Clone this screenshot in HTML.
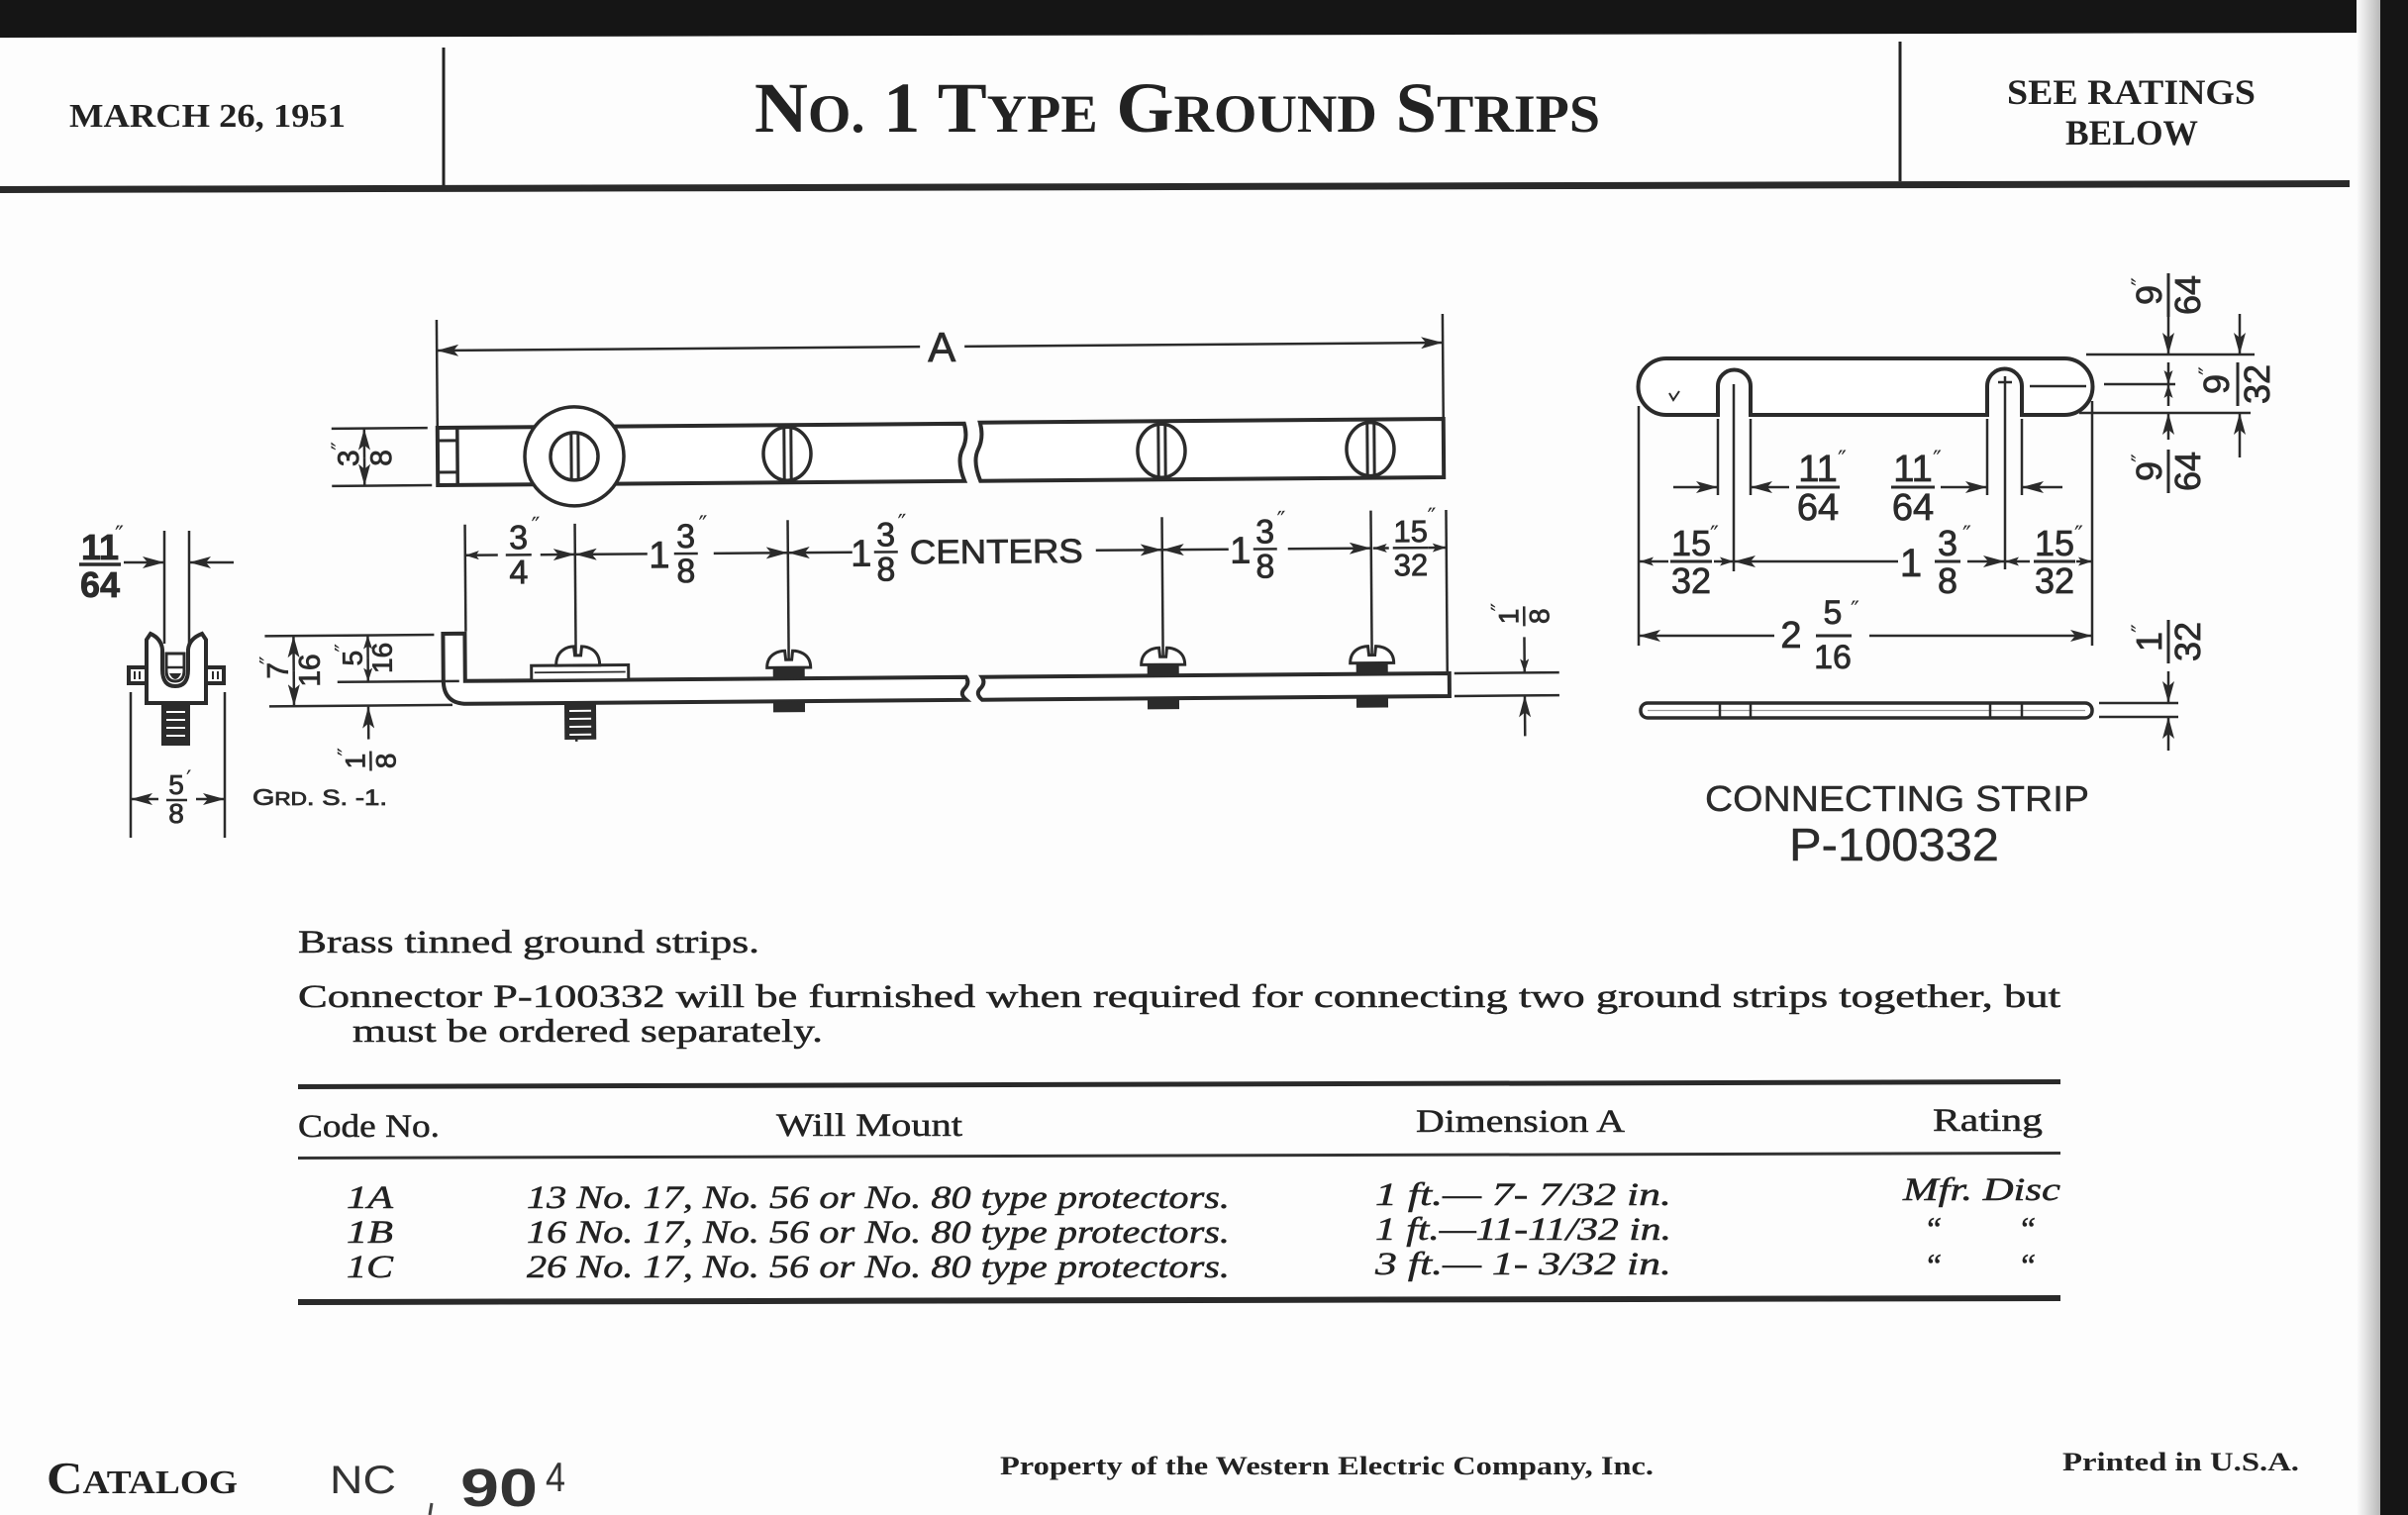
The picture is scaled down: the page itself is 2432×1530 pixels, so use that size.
<!DOCTYPE html>
<html><head><meta charset="utf-8"><style>
html,body{margin:0;padding:0;background:#fff;}
svg{display:block;}
.d{font-family:"Liberation Sans","DejaVu Sans",sans-serif;fill:#2b2b2b;stroke:#2b2b2b;stroke-width:0.8;text-anchor:middle;}
.q{font-family:"DejaVu Sans","Liberation Sans",sans-serif;fill:#2b2b2b;font-size:24px;}
.s{font-family:"Liberation Serif",serif;fill:#222;}
.sb{stroke:#222;stroke-width:0.5;}
.ln{stroke:#2b2b2b;stroke-width:2.5;fill:none;}
.ob{stroke:#2b2b2b;stroke-width:4;fill:#fff;}
</style></head><body>
<svg width="2432" height="1530" viewBox="0 0 2432 1530" xmlns="http://www.w3.org/2000/svg">
<defs>
<marker id="a" viewBox="0 0 22 12" refX="22" refY="6" markerWidth="22" markerHeight="12" markerUnits="userSpaceOnUse" orient="auto-start-reverse"><path d="M0,0 L22,6 L0,12 L5,6 Z" fill="#2b2b2b"/></marker>
<marker id="b" viewBox="0 0 14 9" refX="14" refY="4.5" markerWidth="14" markerHeight="9" markerUnits="userSpaceOnUse" orient="auto-start-reverse"><path d="M0,0 L14,4.5 L0,9 L3,4.5 Z" fill="#2b2b2b"/></marker>
<linearGradient id="edge" x1="0" x2="1" y1="0" y2="0"><stop offset="0" stop-color="#fdfdfd"/><stop offset="1" stop-color="#b8b8b8"/></linearGradient>
</defs>
<rect width="2432" height="1530" fill="#fdfdfd"/>
<polygon points="0,0 2432,0 2432,33 0,38" fill="#151515"/>
<rect x="2380" y="0" width="24" height="1530" fill="url(#edge)"/>
<rect x="2404" y="0" width="28" height="1530" fill="#151515"/>

<!-- HEADER -->
<text class="s" x="70" y="128" font-weight="bold" font-size="34" textLength="279" lengthAdjust="spacingAndGlyphs">MARCH 26, 1951</text>
<line x1="448" y1="48" x2="448" y2="190" stroke="#222" stroke-width="3"/>
<text class="s" x="762" y="133" font-weight="bold" textLength="854" lengthAdjust="spacingAndGlyphs"><tspan font-size="72">N</tspan><tspan font-size="54">O.</tspan><tspan font-size="72"> 1 T</tspan><tspan font-size="54">YPE</tspan><tspan font-size="72"> G</tspan><tspan font-size="54">ROUND</tspan><tspan font-size="72"> S</tspan><tspan font-size="54">TRIPS</tspan></text>
<line x1="1919" y1="42" x2="1919" y2="183" stroke="#222" stroke-width="3"/>
<text class="s" x="2027" y="105" font-weight="bold" font-size="36" textLength="251" lengthAdjust="spacingAndGlyphs">SEE RATINGS</text>
<text class="s" x="2086" y="146" font-weight="bold" font-size="36" textLength="134" lengthAdjust="spacingAndGlyphs">BELOW</text>
<polygon points="0,188 2373,182 2373,189 0,195" fill="#2a2a2a"/>

<!-- LEFT END VIEW -->
<g>
<line class="ln" x1="166" y1="536" x2="166" y2="650"/>
<line class="ln" x1="191" y1="536" x2="191" y2="650"/>
<line class="ln" x1="125" y1="568" x2="166" y2="568" marker-end="url(#a)"/>
<line class="ln" x1="236" y1="568" x2="191" y2="568" marker-end="url(#a)"/>
<g class="d" font-size="36" font-weight="bold">
<text x="101" y="565">11</text><text x="101" y="603">64</text>
</g>
<line x1="80" y1="570" x2="122" y2="570" stroke="#2b2b2b" stroke-width="3.5"/>
<text class="q" x="116" y="548" font-size="28">″</text>
<rect x="130" y="674" width="18" height="16" class="ob" stroke-width="3"/>
<rect x="208" y="674" width="18" height="16" class="ob" stroke-width="3"/>
<line x1="136" y1="678" x2="136" y2="686" stroke="#2b2b2b" stroke-width="2"/><line x1="141" y1="678" x2="141" y2="686" stroke="#2b2b2b" stroke-width="2"/>
<line x1="215" y1="678" x2="215" y2="686" stroke="#2b2b2b" stroke-width="2"/><line x1="220" y1="678" x2="220" y2="686" stroke="#2b2b2b" stroke-width="2"/>
<path class="ob" d="M148,710 L148,646 L152,640 Q163,645 164,656 L164,676 Q164,693 177,693 Q190,693 190,676 L190,656 Q191,645 204,640 L208,646 L208,710 Z"/>
<path d="M168,660 L186,660 L186,677 Q186,688 177,688 Q168,688 168,677 Z" fill="#fff" stroke="#2b2b2b" stroke-width="3"/>
<line x1="168" y1="674" x2="186" y2="674" stroke="#2b2b2b" stroke-width="2.5"/>
<path d="M171,680 L183,680 Q180,686 177,686 Q174,686 171,680 Z" fill="#2b2b2b"/>
<rect x="163" y="711" width="29" height="42" fill="#2b2b2b"/>
<g stroke="#fff" stroke-width="2"><line x1="168" y1="719" x2="187" y2="719"/><line x1="168" y1="727" x2="187" y2="727"/><line x1="168" y1="735" x2="187" y2="735"/><line x1="168" y1="743" x2="187" y2="743"/></g>
<line class="ln" x1="132" y1="699" x2="132" y2="846"/>
<line class="ln" x1="227" y1="699" x2="227" y2="846"/>
<line class="ln" x1="160" y1="807" x2="132" y2="807" marker-end="url(#a)"/>
<line class="ln" x1="198" y1="807" x2="227" y2="807" marker-end="url(#a)"/>
<g class="d" font-size="28"><text x="178" y="802">5</text><text x="178" y="831">8</text></g>
<line x1="168" y1="808" x2="189" y2="808" stroke="#2b2b2b" stroke-width="2.5"/>
<text class="q" x="188" y="795" font-size="20">′</text>
<text class="d" x="255" y="813" font-size="22" textLength="136" lengthAdjust="spacingAndGlyphs" style="text-anchor:start"><tspan font-size="23">G</tspan><tspan font-size="18">RD</tspan>. S. -1.</text>
</g>

<!-- MAIN STRIP -->
<g transform="rotate(-0.45 442 460)">
<line class="ln" x1="442" y1="323" x2="442" y2="432"/>
<line class="ln" x1="1458" y1="325" x2="1458" y2="431"/>
<line class="ln" x1="930" y1="354" x2="442" y2="354" marker-end="url(#a)"/>
<line class="ln" x1="975" y1="354" x2="1458" y2="354" marker-end="url(#a)"/>
<text class="d" x="952" y="369" font-size="42">A</text>
<path class="ob" d="M442,432 L974,432 Q978,446 972,458 Q966,470 974,490 L442,490 Z"/>
<path class="ob" d="M990,431 L1458,431 L1458,490 L990,490 Q982,470 988,458 Q994,446 990,431 Z"/>
<line x1="462" y1="432" x2="462" y2="490" stroke="#2b2b2b" stroke-width="3.5"/>
<line x1="442" y1="445" x2="462" y2="445" stroke="#2b2b2b" stroke-width="3"/>
<line x1="442" y1="477" x2="462" y2="477" stroke="#2b2b2b" stroke-width="3"/>
<circle cx="580" cy="462" r="50" fill="#fff" stroke="#2b2b2b" stroke-width="3.5"/>
<circle cx="580" cy="462" r="24" fill="#fff" stroke="#2b2b2b" stroke-width="3.5"/>
<line x1="577" y1="439" x2="577" y2="485" stroke="#2b2b2b" stroke-width="3"/><line x1="584" y1="439" x2="584" y2="485" stroke="#2b2b2b" stroke-width="3"/>
<g fill="#fff" stroke="#2b2b2b" stroke-width="3.5">
<ellipse cx="795" cy="461" rx="24" ry="27"/>
<ellipse cx="1173" cy="461" rx="24" ry="27"/>
<ellipse cx="1384" cy="461" rx="24" ry="27"/>
</g>
<g stroke="#2b2b2b" stroke-width="3">
<line x1="792" y1="435" x2="792" y2="487"/><line x1="799" y1="435" x2="799" y2="487"/>
<line x1="1170" y1="435" x2="1170" y2="487"/><line x1="1177" y1="435" x2="1177" y2="487"/>
<line x1="1381" y1="435" x2="1381" y2="487"/><line x1="1388" y1="435" x2="1388" y2="487"/>
</g>
<line class="ln" x1="335" y1="432" x2="432" y2="432"/>
<line class="ln" x1="335" y1="490" x2="436" y2="490"/>
<line class="ln" x1="368" y1="462" x2="368" y2="432" marker-end="url(#a)"/>
<line class="ln" x1="368" y1="462" x2="368" y2="490" marker-end="url(#a)"/>
<g transform="translate(368,462) rotate(-90)"><g class="d" font-size="30"><text x="0" y="-6">3</text><text x="0" y="27">8</text></g><text class="q" x="8" y="-16" font-size="20">″</text></g>

<line class="ln" x1="469" y1="530" x2="469" y2="638" stroke-width="2"/>
<line class="ln" x1="580" y1="530" x2="580" y2="750" stroke-width="2"/>
<line class="ln" x1="795" y1="528" x2="795" y2="712" stroke-width="2"/>
<line class="ln" x1="1173" y1="528" x2="1173" y2="712" stroke-width="2"/>
<line class="ln" x1="1384" y1="523" x2="1384" y2="712" stroke-width="2"/>
<line class="ln" x1="1460" y1="523" x2="1460" y2="686" stroke-width="2"/>
<line class="ln" x1="502" y1="561" x2="469" y2="561" marker-end="url(#b)"/>
<line class="ln" x1="545" y1="561" x2="580" y2="561" marker-end="url(#a)"/>
<line class="ln" x1="653" y1="561" x2="580" y2="561" marker-end="url(#a)"/>
<line class="ln" x1="720" y1="561" x2="795" y2="561" marker-end="url(#a)"/>
<line class="ln" x1="860" y1="561" x2="795" y2="561" marker-end="url(#a)"/>
<line class="ln" x1="1106" y1="561" x2="1173" y2="561" marker-end="url(#a)"/>
<line class="ln" x1="1240" y1="561" x2="1173" y2="561" marker-end="url(#a)"/>
<line class="ln" x1="1300" y1="561" x2="1384" y2="561" marker-end="url(#a)"/>
<line class="ln" x1="1402" y1="561" x2="1386" y2="561" marker-end="url(#b)"/>
<line class="ln" x1="1442" y1="561" x2="1460" y2="561" marker-end="url(#b)"/>
<g class="d" font-size="34">
<text x="523" y="555">3</text><text x="523" y="590">4</text>
<text x="665" y="575" font-size="38">1</text>
<text x="692" y="555">3</text><text x="692" y="590">8</text>
<text x="869" y="575" font-size="38">1</text>
<text x="894" y="555">3</text><text x="894" y="590">8</text>
<text x="1252" y="575" font-size="38">1</text>
<text x="1277" y="555">3</text><text x="1277" y="590">8</text>
<text x="1424" y="555" font-size="31">15</text><text x="1424" y="589" font-size="31">32</text>
</g>
<text class="d" x="918" y="573" font-size="34" textLength="175" lengthAdjust="spacingAndGlyphs" style="text-anchor:start">CENTERS</text>
<g stroke="#2b2b2b" stroke-width="2.5">
<line x1="510" y1="561" x2="536" y2="561"/>
<line x1="680" y1="561" x2="704" y2="561"/>
<line x1="882" y1="561" x2="906" y2="561"/>
<line x1="1265" y1="561" x2="1289" y2="561"/>
<line x1="1406" y1="561" x2="1442" y2="561"/>
</g>
<g class="q">
<text x="536" y="540">″</text><text x="705" y="540">″</text><text x="906" y="540">″</text><text x="1289" y="540">″</text><text x="1441" y="538">″</text>
</g>

<path class="ob" d="M446,640 L468,640 L468,688 L974,688 Q978,694 972,700 Q967,705 974,711 L470,711 Q446,711 446,687 Z"/>
<path class="ob" d="M990,688 L1462,688 L1462,711 L990,711 Q983,705 988,700 Q994,694 990,688 Z"/>
<rect x="535" y="673" width="98" height="15" fill="#fff" stroke="#2b2b2b" stroke-width="3"/>
<line x1="538" y1="680" x2="630" y2="680" stroke="#2b2b2b" stroke-width="1.8"/>
<g fill="#fff" stroke="#2b2b2b" stroke-width="3">
<path d="M560,673 C560,656 574,654 578,654 L579,663 L585,663 L586,654 C590,654 604,656 604,673 Z"/>
<path d="M773,677 C773,662 787,660 791,660 L792,669 L798,669 L799,660 C803,660 817,662 817,677 Z"/>
<path d="M1151,677 C1151,662 1165,660 1169,660 L1170,669 L1176,669 L1177,660 C1181,660 1195,662 1195,677 Z"/>
<path d="M1362,677 C1362,662 1376,660 1380,660 L1381,669 L1387,669 L1388,660 C1392,660 1406,662 1406,677 Z"/>
</g>
<rect x="568" y="711" width="32" height="37" fill="#2b2b2b"/>
<g stroke="#fff" stroke-width="2"><line x1="573" y1="719" x2="595" y2="719"/><line x1="573" y1="727" x2="595" y2="727"/><line x1="573" y1="735" x2="595" y2="735"/><line x1="573" y1="743" x2="595" y2="743"/></g>
<g fill="#2b2b2b">
<rect x="779" y="677" width="32" height="11"/><rect x="779" y="711" width="32" height="11"/>
<rect x="1157" y="677" width="32" height="11"/><rect x="1157" y="711" width="32" height="11"/>
<rect x="1368" y="677" width="32" height="11"/><rect x="1368" y="711" width="32" height="11"/>
</g>
<line class="ln" x1="266" y1="641" x2="437" y2="641"/>
<line class="ln" x1="339" y1="688" x2="462" y2="688"/>
<line class="ln" x1="270" y1="712" x2="455" y2="712"/>
<line class="ln" x1="295" y1="676" x2="295" y2="641" marker-end="url(#a)"/>
<line class="ln" x1="295" y1="676" x2="295" y2="712" marker-end="url(#a)"/>
<g transform="translate(295,676) rotate(-90)"><g class="d" font-size="30"><text x="0" y="-6">7</text><text x="0" y="26">16</text></g><text class="q" x="6" y="-17" font-size="18">″</text></g>
<line class="ln" x1="370" y1="664" x2="370" y2="641" marker-end="url(#b)"/>
<line class="ln" x1="370" y1="664" x2="370" y2="688" marker-end="url(#b)"/>
<g transform="translate(370,664) rotate(-90)"><g class="d" font-size="28"><text x="0" y="-6">5</text><text x="0" y="24">16</text></g><text class="q" x="6" y="-16" font-size="17">″</text></g>
<line class="ln" x1="370" y1="746" x2="370" y2="713" marker-end="url(#a)"/>
<g transform="translate(372,768) rotate(-90)"><g class="d" font-size="28"><text x="0" y="-6">1</text><text x="0" y="25">8</text></g><line x1="-10" y1="0" x2="10" y2="0" stroke="#2b2b2b" stroke-width="2.5"/><text class="q" x="5" y="-16" font-size="18">″</text></g>
<line class="ln" x1="1467" y1="688" x2="1573" y2="688"/>
<line class="ln" x1="1467" y1="711" x2="1573" y2="711"/>
<line class="ln" x1="1538" y1="652" x2="1538" y2="688" marker-end="url(#b)"/>
<line class="ln" x1="1538" y1="752" x2="1538" y2="711" marker-end="url(#a)"/>
<g transform="translate(1538,631) rotate(-90)"><g class="d" font-size="28"><text x="0" y="-6">1</text><text x="0" y="25">8</text></g><line x1="-10" y1="0" x2="10" y2="0" stroke="#2b2b2b" stroke-width="2.5"/><text class="q" x="5" y="-16" font-size="18">″</text></g>
</g>

<!-- CONNECTING STRIP -->
<g>
<path class="ob" stroke-width="3.5" d="M1683,362 L2085,362 A28.5,28.5 0 0 1 2085,419 L2042,419 L2042,390 A17.5,17.5 0 0 0 2007,390 L2007,419 L1768,419 L1768,390 A16.5,16.5 0 0 0 1735,390 L1735,419 L1683,419 A28.5,28.5 0 0 1 1683,362 Z"/>
<path d="M1686,397 L1690,404 L1696,395" stroke="#2b2b2b" stroke-width="2" fill="none"/>
<line class="ln" x1="1751" y1="388" x2="1751" y2="577" stroke-width="2"/>
<line class="ln" x1="2025" y1="380" x2="2025" y2="575" stroke-width="2"/>
<line class="ln" x1="2018" y1="386" x2="2032" y2="386" stroke-width="2"/>
<line class="ln" x1="2050" y1="390" x2="2107" y2="390" stroke-width="2"/>
<line class="ln" x1="1735" y1="423" x2="1735" y2="500"/>
<line class="ln" x1="1768" y1="423" x2="1768" y2="500"/>
<line class="ln" x1="2007" y1="423" x2="2007" y2="500"/>
<line class="ln" x1="2042" y1="423" x2="2042" y2="500"/>
<line class="ln" x1="1655" y1="410" x2="1655" y2="652"/>
<line class="ln" x1="2113" y1="405" x2="2113" y2="652"/>
<line class="ln" x1="1690" y1="492" x2="1735" y2="492" marker-end="url(#a)"/>
<line class="ln" x1="1807" y1="492" x2="1768" y2="492" marker-end="url(#a)"/>
<line class="ln" x1="1960" y1="492" x2="2007" y2="492" marker-end="url(#a)"/>
<line class="ln" x1="2083" y1="492" x2="2042" y2="492" marker-end="url(#a)"/>
<line class="ln" x1="1685" y1="567" x2="1656" y2="567" marker-end="url(#b)"/>
<line class="ln" x1="1731" y1="567" x2="1751" y2="567" marker-end="url(#b)"/>
<line class="ln" x1="1917" y1="567" x2="1751" y2="567" marker-end="url(#a)"/>
<line class="ln" x1="1987" y1="567" x2="2025" y2="567" marker-end="url(#a)"/>
<line class="ln" x1="2050" y1="567" x2="2025" y2="567" marker-end="url(#b)"/>
<line class="ln" x1="2097" y1="567" x2="2113" y2="567" marker-end="url(#b)"/>
<line class="ln" x1="1792" y1="642" x2="1655" y2="642" marker-end="url(#a)"/>
<line class="ln" x1="1888" y1="642" x2="2113" y2="642" marker-end="url(#a)"/>
<g class="d" font-size="38">
<text x="1836" y="486">11</text><text x="1836" y="525">64</text>
<text x="1932" y="486">11</text><text x="1932" y="525">64</text>
<text x="1708" y="561" font-size="36">15</text><text x="1708" y="599" font-size="36">32</text>
<text x="1930" y="582" font-size="40">1</text>
<text x="1967" y="561" font-size="36">3</text><text x="1967" y="599" font-size="36">8</text>
<text x="2075" y="561" font-size="36">15</text><text x="2075" y="599" font-size="36">32</text>
<text x="1809" y="654" font-size="38">2</text>
<text x="1851" y="630" font-size="34">5</text><text x="1851" y="675" font-size="34">16</text>
</g>
<g stroke="#2b2b2b" stroke-width="3">
<line x1="1814" y1="492" x2="1858" y2="492"/>
<line x1="1910" y1="492" x2="1954" y2="492"/>
<line x1="1687" y1="567" x2="1729" y2="567"/>
<line x1="1954" y1="567" x2="1980" y2="567"/>
<line x1="2054" y1="567" x2="2096" y2="567"/>
<line x1="1834" y1="642" x2="1870" y2="642"/>
</g>
<g class="q" font-size="32">
<text x="1856" y="472">″</text><text x="1952" y="472">″</text>
<text x="1727" y="548">″</text><text x="1982" y="548">″</text><text x="2095" y="548">″</text>
<text x="1869" y="624">″</text>
</g>
<rect x="1657" y="710" width="456" height="15" rx="7" fill="#fff" stroke="#2b2b2b" stroke-width="3.5"/>
<line x1="1664" y1="717.5" x2="2106" y2="717.5" stroke="#9a9a9a" stroke-width="1.2"/>
<g stroke="#2b2b2b" stroke-width="2.5">
<line x1="1737" y1="710" x2="1737" y2="725"/><line x1="1768" y1="710" x2="1768" y2="725"/>
<line x1="2010" y1="710" x2="2010" y2="725"/><line x1="2042" y1="710" x2="2042" y2="725"/>
</g>
<line class="ln" x1="2107" y1="358" x2="2277" y2="358"/>
<line class="ln" x1="2125" y1="388" x2="2197" y2="388"/>
<line class="ln" x1="2100" y1="417" x2="2273" y2="417"/>
<line class="ln" x1="2190" y1="320" x2="2190" y2="358" marker-end="url(#a)"/>
<line class="ln" x1="2190" y1="366" x2="2190" y2="388" marker-end="url(#b)"/>
<line class="ln" x1="2190" y1="410" x2="2190" y2="388" marker-end="url(#b)"/>
<line class="ln" x1="2190" y1="444" x2="2190" y2="417" marker-end="url(#a)"/>
<line class="ln" x1="2262" y1="317" x2="2262" y2="358" marker-end="url(#a)"/>
<line class="ln" x1="2262" y1="462" x2="2262" y2="417" marker-end="url(#a)"/>
<line class="ln" x1="2120" y1="710" x2="2200" y2="710"/>
<line class="ln" x1="2120" y1="724" x2="2200" y2="724"/>
<line class="ln" x1="2190" y1="678" x2="2190" y2="710" marker-end="url(#a)"/>
<line class="ln" x1="2190" y1="758" x2="2190" y2="724" marker-end="url(#a)"/>
<g transform="translate(2190,298) rotate(-90)"><g class="d" font-size="36"><text x="0" y="-7">9</text><text x="0" y="32">64</text></g><line x1="-22" y1="0" x2="22" y2="0" stroke="#2b2b2b" stroke-width="3"/><text class="q" x="9" y="-20" font-size="30">″</text></g>
<g transform="translate(2260,388) rotate(-90)"><g class="d" font-size="36"><text x="0" y="-9">9</text><text x="0" y="32">32</text></g><line x1="-22" y1="0" x2="22" y2="0" stroke="#2b2b2b" stroke-width="3"/><text class="q" x="9" y="-22" font-size="30">″</text></g>
<g transform="translate(2190,476) rotate(-90)"><g class="d" font-size="36"><text x="0" y="-7">9</text><text x="0" y="32">64</text></g><line x1="-22" y1="0" x2="22" y2="0" stroke="#2b2b2b" stroke-width="3"/><text class="q" x="9" y="-20" font-size="30">″</text></g>
<g transform="translate(2190,648) rotate(-90)"><g class="d" font-size="36"><text x="0" y="-7">1</text><text x="0" y="32">32</text></g><line x1="-22" y1="0" x2="22" y2="0" stroke="#2b2b2b" stroke-width="3"/><text class="q" x="9" y="-20" font-size="30">″</text></g>
<text class="d" x="1722" y="819" font-size="36" textLength="388" lengthAdjust="spacingAndGlyphs" style="text-anchor:start;stroke-width:0.4">CONNECTING STRIP</text>
<text class="d" x="1807" y="869" font-size="46" textLength="212" lengthAdjust="spacingAndGlyphs" style="text-anchor:start;stroke-width:0.4">P-100332</text>
</g>

<!-- BODY TEXT -->
<text class="s sb" x="301" y="962" font-size="33" textLength="466" lengthAdjust="spacingAndGlyphs">Brass tinned ground strips.</text>
<text class="s sb" x="301" y="1017" font-size="33" textLength="1780" lengthAdjust="spacingAndGlyphs">Connector P-100332 will be furnished when required for connecting two ground strips together, but</text>
<text class="s sb" x="356" y="1052" font-size="33" textLength="475" lengthAdjust="spacingAndGlyphs">must be ordered separately.</text>

<!-- TABLE -->
<polygon points="301,1095 2081,1090 2081,1095 301,1100" fill="#2a2a2a"/>
<text class="s sb" x="301" y="1148" font-size="33" textLength="143" lengthAdjust="spacingAndGlyphs">Code No.</text>
<text class="s sb" x="784" y="1147" font-size="33" textLength="188" lengthAdjust="spacingAndGlyphs">Will Mount</text>
<text class="s sb" x="1430" y="1143" font-size="33" textLength="211" lengthAdjust="spacingAndGlyphs">Dimension A</text>
<text class="s sb" x="1952" y="1142" font-size="33" textLength="111" lengthAdjust="spacingAndGlyphs">Rating</text>
<polygon points="301,1168 2081,1163 2081,1166 301,1171" fill="#333"/>
<g class="s sb" font-style="italic" font-size="33">
<text x="350" y="1220" textLength="47" lengthAdjust="spacingAndGlyphs">1A</text>
<text x="532" y="1220" textLength="710" lengthAdjust="spacingAndGlyphs">13 No. 17, No. 56 or No. 80 type protectors.</text>
<text x="1389" y="1217" textLength="299" lengthAdjust="spacingAndGlyphs">1 ft.— 7- 7/32 in.</text>
<text x="1922" y="1212" textLength="159" lengthAdjust="spacingAndGlyphs">Mfr. Disc</text>
<text x="350" y="1255" textLength="47" lengthAdjust="spacingAndGlyphs">1B</text>
<text x="532" y="1255" textLength="710" lengthAdjust="spacingAndGlyphs">16 No. 17, No. 56 or No. 80 type protectors.</text>
<text x="1389" y="1252" textLength="299" lengthAdjust="spacingAndGlyphs">1 ft.—11-11/32 in.</text>
<text x="1943" y="1252">“</text><text x="2038" y="1252">“</text>
<text x="350" y="1290" textLength="47" lengthAdjust="spacingAndGlyphs">1C</text>
<text x="532" y="1290" textLength="710" lengthAdjust="spacingAndGlyphs">26 No. 17, No. 56 or No. 80 type protectors.</text>
<text x="1389" y="1287" textLength="299" lengthAdjust="spacingAndGlyphs">3 ft.— 1- 3/32 in.</text>
<text x="1943" y="1289">“</text><text x="2038" y="1289">“</text>
</g>
<polygon points="301,1312 2081,1308 2081,1314 301,1318" fill="#2a2a2a"/>

<!-- FOOTER -->
<text class="s" x="47" y="1508" font-weight="bold" textLength="193" lengthAdjust="spacingAndGlyphs"><tspan font-size="46">C</tspan><tspan font-size="34">ATALOG</tspan></text>
<text x="333" y="1508" style="font-family:'Liberation Sans Narrow','Liberation Sans',sans-serif" font-size="40" fill="#333" textLength="67" lengthAdjust="spacingAndGlyphs">NC</text>
<text x="465" y="1521" style="font-family:'Liberation Sans Narrow','Liberation Sans',sans-serif" font-weight="bold" font-size="54" fill="#333" textLength="78" lengthAdjust="spacingAndGlyphs">90</text>
<text x="551" y="1506" style="font-family:'Liberation Sans Narrow','Liberation Sans',sans-serif" font-size="42" fill="#333" textLength="20" lengthAdjust="spacingAndGlyphs">4</text>
<path d="M436,1518 L434,1530" stroke="#444" stroke-width="3"/>
<text class="s" x="1010" y="1489" font-weight="bold" font-size="26" textLength="660" lengthAdjust="spacingAndGlyphs">Property of the Western Electric Company, Inc.</text>
<text class="s" x="2083" y="1485" font-weight="bold" font-size="26" textLength="239" lengthAdjust="spacingAndGlyphs">Printed in U.S.A.</text>
</svg>
</body></html>
